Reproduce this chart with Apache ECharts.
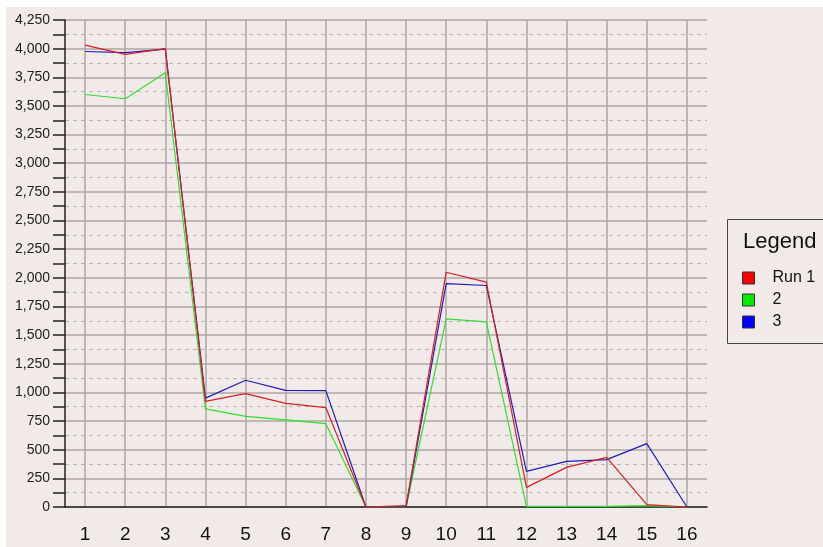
<!DOCTYPE html>
<html>
<head>
<meta charset="utf-8">
<script src="https://cdn.jsdelivr.net/npm/echarts@6/dist/echarts.min.js"></script>
<style>
  html, body { margin: 0; padding: 0; background: #fff; }
  #chart { width: 823px; height: 547px; }
</style>
</head>
<body>
<div id="chart"></div>
<script>
// data
const categories = ['1', '2', '3', '4', '5', '6', '7', '8', '9', '10', '11', '12', '13', '14', '15', '16'];
const run1 = [4030, 3950, 4000, 922, 990, 905, 868, 0, 12, 2049, 1962, 171, 346, 433, 20, 0];
const run2 = [3600, 3563, 3790, 856, 791, 760, 727, 0, 0, 1642, 1616, 5, 5, 6, 12, 0];
const run3 = [3975, 3965, 3995, 950, 1106, 1018, 1016, 0, 0, 1950, 1933, 311, 398, 413, 553, 0];
const seriesNames = ['Run 1', '2', '3'];

const FONT = '"Liberation Sans", Arial, sans-serif';
const BG = '#f2eae8';

const chart = echarts.init(document.getElementById('chart'));

const makeLine = (name, data, color, lineColor, z) => ({
  name,
  type: 'line',
  data,
  symbol: 'none',
  z,
  itemStyle: { color },
  lineStyle: { color: lineColor, width: 1.2 },
});

const option = {
  animation: false,
  backgroundColor: BG,
  textStyle: { fontFamily: FONT },
  grid: { left: 65, right: 116, top: 20, bottom: 40 },
  graphic: [
    // white strips along the top and left edge
    { type: 'rect', left: 0, top: 0, shape: { width: 823, height: 7 }, style: { fill: '#fff' }, z: 100 },
    { type: 'rect', left: 0, top: 0, shape: { width: 6, height: 547 }, style: { fill: '#fff' }, z: 100 },
    // legend frame + title
    {
      type: 'rect',
      shape: { x: 727.5, y: 219.5, width: 120, height: 124 },
      style: { fill: 'none', stroke: '#444', lineWidth: 1 },
    },
    {
      type: 'text',
      left: 743,
      top: 231,
      style: { text: 'Legend', fontSize: 22, fontFamily: FONT, fill: '#111' },
    },
  ],
  legend: {
    data: seriesNames,
    orient: 'vertical',
    left: 742,
    top: 270,
    padding: 0,
    icon: 'rect',
    itemWidth: 12,
    itemHeight: 12,
    itemGap: 6,
    itemStyle: { borderColor: '#333', borderWidth: 1 },
    textStyle: { fontSize: 16, color: '#111', fontFamily: FONT, padding: [0, 0, 0, 13] },
  },
  xAxis: {
    type: 'category',
    data: categories,
    boundaryGap: true,
    axisLine: { lineStyle: { color: '#222', width: 1.5 } },
    axisTick: { alignWithLabel: true, length: 10, lineStyle: { color: '#222', width: 1.5 } },
    axisLabel: { fontSize: 19, color: '#111', margin: 18, fontFamily: FONT, interval: 0 },
    splitLine: { show: true, alignWithLabel: true, lineStyle: { color: '#aca6a5', width: 1.5 } },
  },
  yAxis: {
    type: 'value',
    min: 0,
    max: 4250,
    interval: 250,
    axisLine: { show: true, lineStyle: { color: '#222', width: 1.5 } },
    axisTick: { show: true, length: 12, lineStyle: { color: '#222', width: 1.5 } },
    minorTick: { show: true, splitNumber: 2, length: 12, lineStyle: { color: '#222', width: 1.5 } },
    axisLabel: {
      fontSize: 14,
      color: '#222',
      margin: 15,
      fontFamily: FONT,
      formatter: (v) => v.toLocaleString('en-US'),
    },
    splitLine: { show: true, lineStyle: { color: '#aca6a5', width: 1.5 } },
    minorSplitLine: { show: true, lineStyle: { color: '#b8b2b1', type: [4, 4], width: 1 } },
  },
  series: [
    makeLine(seriesNames[0], run1, '#ff0000', '#dc1e1e', 4),
    makeLine(seriesNames[1], run2, '#00ee00', '#2ee02e', 2),
    makeLine(seriesNames[2], run3, '#0000ff', '#1c1cc4', 3),
  ],
};

chart.setOption(option);
</script>
</body>
</html>
